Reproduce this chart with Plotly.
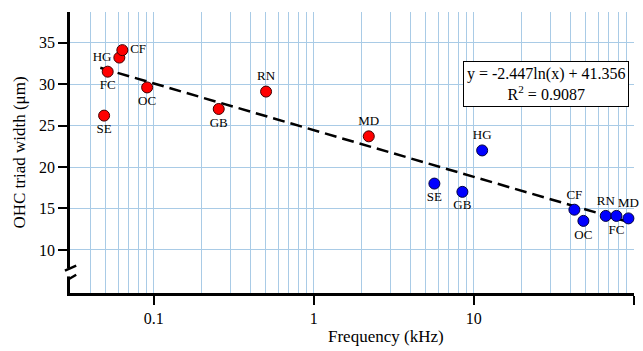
import numpy as np
import plotly.graph_objects as go

# Data
red_labels = ["SE", "FC", "HG", "CF", "OC", "GB", "RN", "MD"]
red_freq = [0.049, 0.0516, 0.061, 0.0637, 0.091, 0.255, 0.504, 2.21]
red_width = [26.2, 31.5, 33.2, 34.1, 29.6, 27.0, 29.1, 23.7]
red_textpos = ["bottom center", "bottom center", "middle left", "middle right",
               "bottom center", "bottom center", "top center", "top center"]

blue_labels = ["HG", "SE", "GB", "CF", "OC", "RN", "FC", "MD"]
blue_freq = [11.3, 5.68, 8.5, 42.6, 48.5, 66.9, 78.0, 92.7]
blue_width = [22.0, 18.0, 17.0, 14.85, 13.5, 14.1, 14.1, 13.8]
blue_textpos = ["top center", "bottom center", "bottom center", "top center",
                "bottom center", "top center", "bottom center", "top center"]

fit_slope = -2.447
fit_intercept = 41.356
fit_r2 = 0.9087
fit_range_khz = [0.0464, 92.7]

y_ticks = [10, 15, 20, 25, 30, 35]
x_ticks = [0.1, 1, 10, 100]
x_ticktext = ["0.1", "1", "10", "100"]

font_family = "Liberation Serif, Times New Roman, serif"
grid_color = "#a9cbe6"

fit_x = np.logspace(np.log10(fit_range_khz[0]), np.log10(fit_range_khz[1]), 100)
fit_y = fit_slope * np.log(fit_x * 1000) + fit_intercept

fig = go.Figure()
fig.add_trace(go.Scatter(x=fit_x, y=fit_y, mode="lines",
                         line=dict(color="black", width=2.5, dash="12px,6px"),
                         showlegend=False, hoverinfo="skip"))
fig.add_trace(go.Scatter(x=red_freq, y=red_width, mode="markers+text",
                         text=red_labels, textposition=red_textpos,
                         textfont=dict(family=font_family, size=13, color="black"),
                         marker=dict(color="#ff0000", size=11, line=dict(color="#400000", width=1)),
                         showlegend=False, cliponaxis=False))
fig.add_trace(go.Scatter(x=blue_freq, y=blue_width, mode="markers+text",
                         text=blue_labels, textposition=blue_textpos,
                         textfont=dict(family=font_family, size=13, color="black"),
                         marker=dict(color="#0000ff", size=11, line=dict(color="#000040", width=1)),
                         showlegend=False, cliponaxis=False))

fig.update_layout(
    width=643, height=351,
    margin=dict(l=70, r=9, t=12, b=58, autoexpand=False),
    paper_bgcolor="white", plot_bgcolor="white",
    font=dict(family=font_family, size=15, color="black"),
    xaxis=dict(type="log", range=[-1.523, 2.002], automargin=False,
               tickvals=x_ticks, ticktext=x_ticktext,
               ticks="outside", ticklen=9, tickwidth=2, tickcolor="black",
               showline=True, linecolor="black", linewidth=2.5,
               showgrid=True, gridcolor=grid_color, gridwidth=1,
               minor=dict(dtick="D1", showgrid=True, gridcolor=grid_color, gridwidth=1, ticks=""),
               zeroline=False, tickfont=dict(size=16)),
    yaxis=dict(range=[4.8, 38.7], tickvals=y_ticks, automargin=False,
               ticks="outside", ticklen=9, tickwidth=2, tickcolor="black",
               showline=True, linecolor="black", linewidth=2.5,
               showgrid=True, gridcolor=grid_color, gridwidth=1,
               zeroline=False, tickfont=dict(size=16),
               title=dict(text="OHC triad width (μm)", font=dict(size=17), standoff=10)),
    annotations=[
        dict(text="Frequency (kHz)", xref="paper", yref="paper", x=0.56, y=-0.155,
             showarrow=False, font=dict(size=17), xanchor="center", yanchor="middle"),
        dict(text=f"y = {fit_slope}ln(x) + {fit_intercept}<br>R<sup>2</sup> = {fit_r2}",
             xref="paper", yref="paper", x=(545.5 - 70) / 564, y=1 - (83.7 - 12) / 281.3,
             showarrow=False, font=dict(size=16), bordercolor="black", borderwidth=1,
             bgcolor="white", borderpad=3, xanchor="center", yanchor="middle"),
    ],
    shapes=[
        dict(type="rect", xref="paper", yref="y", x0=-0.012, x1=0.012, y0=6.8, y1=7.8,
             fillcolor="white", line=dict(width=0), layer="above"),
        dict(type="line", xref="paper", yref="y", x0=-0.009, x1=0.011, y0=7.5, y1=8.1,
             line=dict(color="black", width=2.5), layer="above"),
        dict(type="line", xref="paper", yref="y", x0=-0.004, x1=0.011, y0=6.4, y1=7.0,
             line=dict(color="black", width=2.5), layer="above"),
    ],
)

fig.write_html("out.html", config={"displayModeBar": False},
               post_script="document.body.style.margin='0';document.body.style.overflow='hidden';")
